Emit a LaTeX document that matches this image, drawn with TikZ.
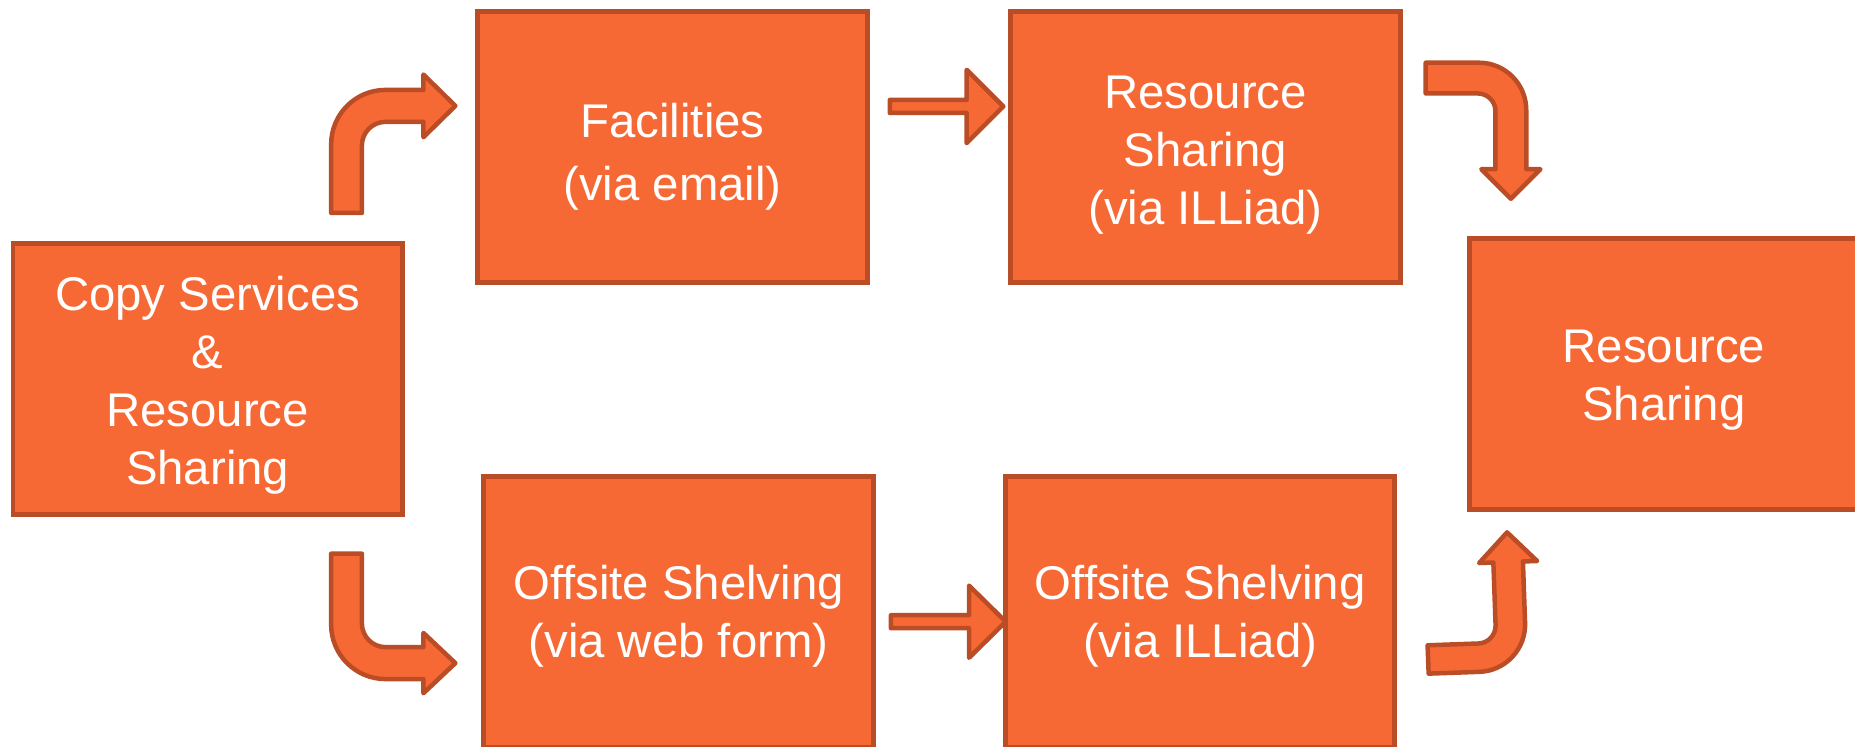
\documentclass[tikz,border=0pt]{standalone}
\usepackage{fontspec}
\setmainfont{Liberation Sans}
\definecolor{boxfill}{HTML}{F66935}
\definecolor{boxline}{HTML}{BA4C26}
\begin{document}
\begin{tikzpicture}[x=0.5pt,y=-0.5pt,
  box/.style={draw=boxline, fill=boxfill, line width=2.1pt, minimum width=164.5pt,
    minimum height=114.5pt, inner sep=0pt},
  txt/.style={text=white, align=center, inner sep=0pt,
    font=\fontsize{20}{24.5}\selectfont},
  barrow/.style={draw=boxline, fill=boxfill, line width=1.9pt, line join=round}]
\useasboundingbox (0,0) rectangle (1568,631);
\clip (0,0) rectangle (1568,631);

\node[box, label={[txt,yshift=-2.75pt]center:Copy Services\\\&\\Resource\\Sharing}] (copy) at (175.5,320.5) {};
\node[box, label={[txt,yshift=-4pt,font=\fontsize{20}{26.5}\selectfont]center:Facilities\\(via email)}] (fac) at (568.5,124.5) {};
\node[box, label={[txt,yshift=-3.25pt]center:Resource\\Sharing\\(via ILLiad)}] (rsill) at (1019,124.5) {};
\node[box, label={[txt,yshift=-2.5pt]center:Resource\\Sharing}] (final) at (1406.5,316.5) {};
\node[box, label={[txt,yshift=-1.75pt]center:Offsite Shelving\\(via web form)}] (offweb) at (573.5,517.5) {};
\node[box, label={[txt,yshift=-1.75pt]center:Offsite Shelving\\(via ILLiad)}] (offill) at (1014.5,517.5) {};

% copy -> fac
\begin{scope}[shift={(fac.west)}]
\draw[barrow] (-122,55.5) -- (-122,-2.5) .. controls (-122,-27.9) and (-101.4,-48.5) .. (-76,-48.5)
  -- (-44,-48.5) -- (-44,-61.5) -- (-17,-35) -- (-44,-8.5) -- (-44,-21.5) -- (-76,-21.5)
  .. controls (-87.05,-21.5) and (-96,-12.55) .. (-96,-1.5) -- (-96,55.5) -- cycle;
\end{scope}

% copy -> offweb
\begin{scope}[shift={(offweb.west)}]
\draw[barrow] (-127,-49.5) -- (-127,10.5) .. controls (-127,35.9) and (-106.4,56.5) .. (-81,56.5)
  -- (-49,56.5) -- (-49,68.5) -- (-22,43) -- (-49,17.5) -- (-49,29.5) -- (-81,29.5)
  .. controls (-92.05,29.5) and (-101,20.55) .. (-101,9.5) -- (-101,-49.5) -- cycle;
\end{scope}

% fac -> rsill
\begin{scope}[shift={(fac.east)}]
\draw[barrow] (17,-40) -- (82,-40) -- (82,-65.5) -- (113,-34.5) -- (82,-3.5) -- (82,-29) -- (17,-29) -- cycle;
\end{scope}

% offweb -> offill
\begin{scope}[shift={(offweb.east)}]
\draw[barrow] (13,2.5) -- (79,2.5) -- (79,-22.5) -- (110,8) -- (79,38.5) -- (79,13.5) -- (13,13.5) -- cycle;
\end{scope}

% rsill -> final
\begin{scope}[shift={(rsill.east)}]
\draw[barrow] (19.5,-71.5) -- (64.5,-71.5) .. controls (86.6,-71.5) and (104.5,-53.6) .. (104.5,-31.5)
  -- (104.5,18.5) -- (116.5,18.5) -- (91.5,43.5) -- (66.5,18.5) -- (78.5,18.5) -- (78.5,-30.5)
  .. controls (78.5,-38.78) and (71.78,-45.5) .. (63.5,-45.5) -- (19.5,-45.5) -- cycle;
\end{scope}

% offill -> final
\begin{scope}[shift={(offill.east)}]
\draw[barrow] (25.6,27.95) -- (68.61,26.42) .. controls (76.88,26.13) and (83.37,19.18) .. (83.08,10.91)
  -- (81.2,-42) -- (69.2,-41.6) -- (92.8,-67.5) -- (118.2,-43.3) -- (106.2,-42.9) -- (108.0,9.02)
  .. controls (108.77,31.1) and (91.5,49.63) .. (69.42,50.4) -- (26.5,51.9) -- cycle;
\end{scope}
\end{tikzpicture}
\end{document}
